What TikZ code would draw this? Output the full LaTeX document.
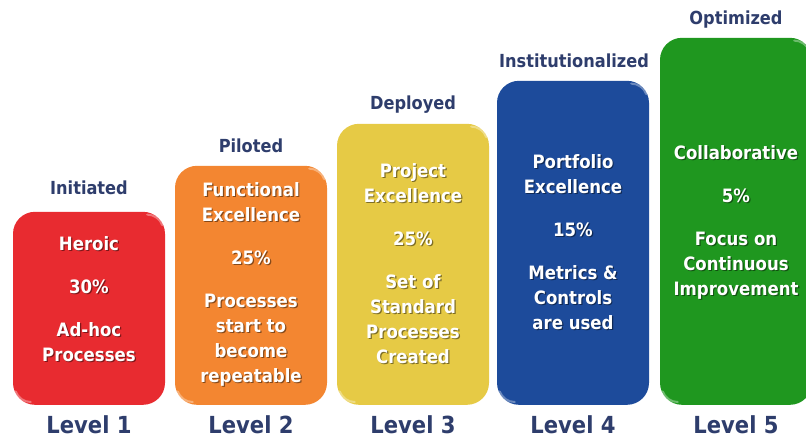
\documentclass[tikz,border=0pt]{standalone}
\usepackage{fontspec}
\setmainfont{DejaVu Sans Condensed}
\definecolor{lvred}{HTML}{E82B30}
\definecolor{lvorange}{HTML}{F38631}
\definecolor{lvyellow}{HTML}{E6CA45}
\definecolor{lvblue}{HTML}{1D4B9B}
\definecolor{lvgreen}{HTML}{1F971F}
\definecolor{navy}{HTML}{2E3D6C}
\begin{document}
\begin{tikzpicture}[x=1pt,y=-1pt,
  levelbox/.style={draw=none, rounded corners=22pt, minimum width=152pt,
    anchor=south, inner sep=0pt},
  boxtext/.style={text=white, align=center, anchor=north, inner sep=0pt,
    font=\fontsize{18.4}{25}\selectfont\bfseries},
  boxshadow/.style={boxtext, text=black, opacity=0.45},
  stagetitle/.style={text=navy, anchor=base, inner sep=0pt,
    font=\fontsize{18}{22}\selectfont\bfseries},
  leveltitle/.style={text=navy, anchor=base, inner sep=0pt,
    font=\fontsize{23.5}{28}\selectfont\bfseries},
  bevel/.style={white, opacity=0.35, line width=2pt, line cap=round}]
\useasboundingbox (0,0) rectangle (806,440);
\clip (0,0) rectangle (806,440);

% coloured maturity blocks
\node[levelbox, fill=lvred,    minimum height=193pt] (b1) at (89,405)  {};
\node[levelbox, fill=lvorange, minimum height=239pt] (b2) at (251,405) {};
\node[levelbox, fill=lvyellow, minimum height=281pt] (b3) at (413,405) {};
\node[levelbox, fill=lvblue,   minimum height=324pt] (b4) at (573,405) {};
\node[levelbox, fill=lvgreen,  minimum height=367pt] (b5) at (736,405) {};

% soft highlights on the corners of each block
\foreach \b in {b1,b2,b3,b4,b5}{
  \draw[bevel] ([xshift=-18pt,yshift=-3pt]\b.north east) arc[start angle=90,end angle=20,radius=16pt];
  \draw[bevel] ([xshift=18pt,yshift=3pt]\b.south west) arc[start angle=270,end angle=200,radius=16pt];
}

% block texts (drop shadow first, then white text)
\node[boxshadow] (t1s) at (90.2,237.2) {Heroic\\[18pt]30\%\\[18pt]Ad-hoc\\Processes};
\node[boxtext]   (t1)  at (89,236)     {Heroic\\[18pt]30\%\\[18pt]Ad-hoc\\Processes};
\node[boxshadow] (t2s) at (252.2,183.2) {Functional\\Excellence\\[18pt]25\%\\[18pt]Processes\\start to\\become\\repeatable};
\node[boxtext]   (t2)  at (251,182)     {Functional\\Excellence\\[18pt]25\%\\[18pt]Processes\\start to\\become\\repeatable};
\node[boxshadow] (t3s) at (414.2,164.2) {Project\\Excellence\\[18pt]25\%\\[18pt]Set of\\Standard\\Processes\\Created};
\node[boxtext]   (t3)  at (413,163)     {Project\\Excellence\\[18pt]25\%\\[18pt]Set of\\Standard\\Processes\\Created};
\node[boxshadow] (t4s) at (574.2,155.2) {Portfolio\\Excellence\\[18pt]15\%\\[18pt]Metrics \&\\Controls\\are used};
\node[boxtext]   (t4)  at (573,154)     {Portfolio\\Excellence\\[18pt]15\%\\[18pt]Metrics \&\\Controls\\are used};
\node[boxshadow] (t5s) at (737.2,146.2) {Collaborative\\[18pt]5\%\\[18pt]Focus on\\Continuous\\Improvement};
\node[boxtext]   (t5)  at (736,145)     {Collaborative\\[18pt]5\%\\[18pt]Focus on\\Continuous\\Improvement};

% stage names above the blocks
\node[stagetitle] (s1) at (89,194.5)  {Initiated};
\node[stagetitle] (s2) at (251,152.5) {Piloted};
\node[stagetitle] (s3) at (413,109.5) {Deployed};
\node[stagetitle] (s4) at (574,67.5)  {Institutionalized};
\node[stagetitle] (s5) at (736,24.5)  {Optimized};

% level labels below the blocks
\node[leveltitle] (l1) at (89,433)  {Level 1};
\node[leveltitle] (l2) at (251,433) {Level 2};
\node[leveltitle] (l3) at (413,433) {Level 3};
\node[leveltitle] (l4) at (573,433) {Level 4};
\node[leveltitle] (l5) at (736,433) {Level 5};
\end{tikzpicture}
\end{document}
